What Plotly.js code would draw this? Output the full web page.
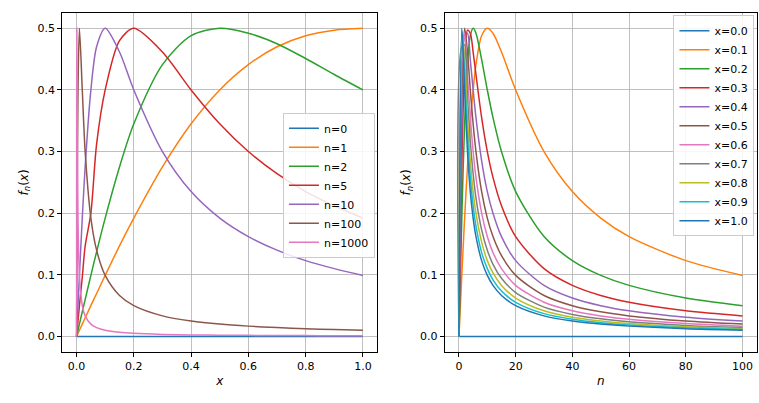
<!DOCTYPE html>
<html>
<head>
<script src="https://cdn.plot.ly/plotly-3.0.1.min.js"></script>
<style>body{margin:0;background:#fff}</style>
</head>
<body>
<div id="plot" style="width:759px;height:403px"></div>
<script>
// left panel: f_n(x) against x
const xs = [0,0.0005,0.001,0.002,0.005,0.01,0.02,0.03,0.05,0.07,0.1,0.15,0.2,0.3,0.4,0.5,0.6,0.7,0.8,0.9,1.0];
const leftNames = ['n=0','n=1','n=2','n=5','n=10','n=100','n=1000'];
const n0 = xs.map(() => 0);
const n1 = [0,.0005,.001,.002,.005,.01,.02,.03,.0499,.0697,.099,.147,.192,.275,.345,.4,.441,.470,.488,.497,.5];
const n2 = [0,.001,.002,.004,.01,.02,.04,.0598,.099,.1373,.192,.275,.345,.441,.488,.5,.492,.475,.451,.425,.4];
const n5 = [0,.0025,.005,.01,.025,.0499,.096,.1467,.2,.312,.4,.48,.5,.4615,.4,.345,.3,.264,.235,.212,.192];
const n10 = [0,.005,.01,.02,.0499,.099,.192,.275,.4,.47,.5,.4615,.4,.3,.235,.192,.162,.14,.123,.11,.099];
const n100 = [0,.0499,.099,.192,.4,.5,.4,.3,.192,.14,.099,.0664,.0499,.0333,.025,.02,.0167,.0143,.0125,.0111,.01];
const n1000 = [0,.4,.5,.4,.192,.099,.05,.0333,.02,.0143,.01,.0067,.005,.0033,.0025,.002,.0017,.0014,.0013,.0011,.001];
const leftSeries = [n0,n1,n2,n5,n10,n100,n1000];

// right panel: f_n(x) against n
const ns = [0,1,2,3,4,5,6,8,10,12,15,20,30,40,50,60,80,100];
const rightNames = ['x=0.0','x=0.1','x=0.2','x=0.3','x=0.4','x=0.5','x=0.6','x=0.7','x=0.8','x=0.9','x=1.0'];
const x00 = ns.map(() => 0);
const x01 = [0,.099,.192,.275,.345,.4,.441,.488,.5,.492,.4615,.4,.3,.235,.192,.162,.123,.099];
const x02 = [0,.192,.345,.441,.488,.5,.492,.449,.4,.355,.3,.235,.162,.123,.099,.0828,.0623,.0499];
const x03 = [0,.275,.441,.497,.492,.4615,.425,.355,.3,.258,.212,.162,.11,.0828,.0664,.0554,.0416,.0333];
const x04 = [0,.345,.488,.492,.449,.4,.355,.285,.235,.2,.162,.123,.0828,.0623,.0499,.0416,.0312,.025];
const x05 = [0,.4,.5,.4615,.4,.345,.3,.235,.192,.162,.131,.099,.0664,.0499,.0399,.0333,.025,.02];
const x06 = [0,.441,.492,.425,.355,.3,.258,.2,.162,.136,.11,.0828,.0554,.0416,.0333,.0278,.0208,.0167];
const x07 = [0,.47,.473,.388,.317,.264,.225,.173,.14,.117,.0944,.0711,.0475,.0357,.0285,.0238,.0179,.0143];
const x08 = [0,.488,.449,.355,.285,.235,.2,.153,.123,.103,.0828,.0623,.0416,.0312,.025,.0208,.0156,.0125];
const x09 = [0,.497,.425,.326,.258,.212,.179,.136,.11,.0918,.0737,.0554,.037,.0278,.0222,.0185,.0139,.0111];
const x10 = [0,.5,.4,.3,.235,.192,.162,.123,.099,.0828,.0664,.0499,.0333,.025,.02,.0167,.0125,.01];
const rightSeries = [x00,x01,x02,x03,x04,x05,x06,x07,x08,x09,x10];

const colors = ['#1f77b4','#ff7f0e','#2ca02c','#d62728','#9467bd','#8c564b','#e377c2','#7f7f7f','#bcbd22','#17becf'];

const traces = [];
leftSeries.forEach((ys, i) => traces.push({
    x: xs, y: ys, name: leftNames[i], type: 'scatter', mode: 'lines',
    line: {color: colors[i % 10], width: 1.5, shape: 'spline', smoothing: 0.8},
    xaxis: 'x', yaxis: 'y', legend: 'legend'
}));
rightSeries.forEach((ys, i) => traces.push({
    x: ns, y: ys, name: rightNames[i], type: 'scatter', mode: 'lines',
    line: {color: colors[i % 10], width: 1.5, shape: 'spline', smoothing: 0.8},
    xaxis: 'x2', yaxis: 'y2', legend: 'legend2'
}));

const ax = {
    showline: true, mirror: true, linecolor: '#000', linewidth: 1,
    ticks: 'outside', ticklen: 4, tickcolor: '#000',
    showgrid: true, gridcolor: '#b0b0b0', gridwidth: 0.8, zeroline: false,
    tickfont: {size: 11, color: '#000'}
};
const leg = {
    bgcolor: 'rgba(255,255,255,0.85)', bordercolor: '#ccc', borderwidth: 1,
    font: {size: 11, color: '#000'}, tracegroupgap: 0
};

const layout = {
    width: 759, height: 403,
    margin: {l: 0, r: 0, t: 0, b: 0},
    paper_bgcolor: '#fff', plot_bgcolor: '#fff',
    font: {family: 'DejaVu Sans', color: '#000'},
    xaxis: Object.assign({}, ax, {domain: [0.082, 0.497], range: [-0.05, 1.05],
        tickvals: [0,0.2,0.4,0.6,0.8,1.0], ticktext: ['0.0','0.2','0.4','0.6','0.8','1.0'],
        title: {text: '<i>x</i>', font: {size: 12}, standoff: 4}}),
    yaxis: Object.assign({}, ax, {domain: [0.127, 0.968], range: [-0.025, 0.525],
        tickvals: [0,0.1,0.2,0.3,0.4,0.5], ticktext: ['0.0','0.1','0.2','0.3','0.4','0.5'],
        title: {text: '<i>f<sub>n</sub></i>(<i>x</i>)', font: {size: 12}, standoff: 6}}),
    xaxis2: Object.assign({}, ax, {domain: [0.586, 0.997], range: [-5, 105], anchor: 'y2',
        tickvals: [0,20,40,60,80,100],
        title: {text: '<i>n</i>', font: {size: 12}, standoff: 4}}),
    yaxis2: Object.assign({}, ax, {domain: [0.127, 0.968], range: [-0.025, 0.525], anchor: 'x2',
        tickvals: [0,0.1,0.2,0.3,0.4,0.5], ticktext: ['0.0','0.1','0.2','0.3','0.4','0.5'],
        title: {text: '<i>f<sub>n</sub></i>(<i>x</i>)', font: {size: 12}, standoff: 6}}),
    legend: Object.assign({}, leg, {x: 0.494, y: 0.72, xanchor: 'right', yanchor: 'top'}),
    legend2: Object.assign({}, leg, {x: 0.994, y: 0.962, xanchor: 'right', yanchor: 'top'})
};

Plotly.newPlot('plot', traces, layout, {displayModeBar: false, staticPlot: true});
</script>
</body>
</html>
